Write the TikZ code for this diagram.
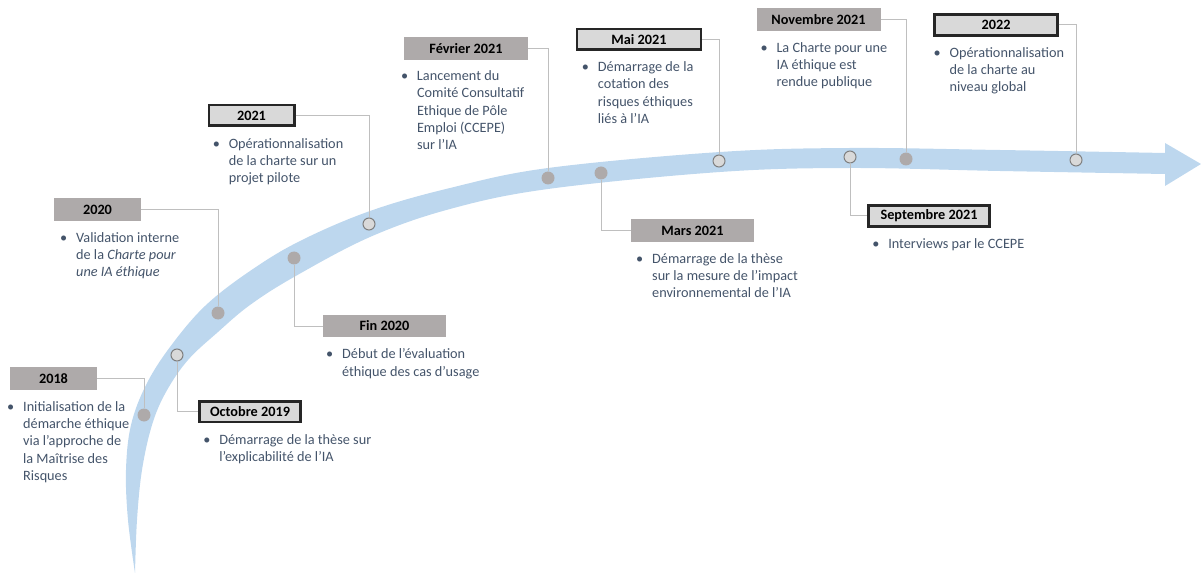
\documentclass[tikz,border=0pt]{standalone}
\usepackage{fontspec}
\setmainfont{Carlito}
\usetikzlibrary{positioning}

\definecolor{bandblue}{HTML}{BDD7EE}
\definecolor{boxdark}{HTML}{AEAAAA}
\definecolor{boxlight}{HTML}{D9D9D9}
\definecolor{boxline}{HTML}{262626}
\definecolor{linkgray}{HTML}{BFBFBF}
\definecolor{dotline}{HTML}{7F7F7F}
\definecolor{textblue}{HTML}{44546A}

\newcommand\puces[1]{\makebox[12pt][l]{\textbullet}\begin{tabular}[t]{@{}l@{}}#1\end{tabular}}

\tikzset{
    every node/.style = {font=\fontsize{10.7pt}{13pt}\selectfont},
    done/.style = {fill=boxdark, inner sep=0pt, minimum height=17pt,
                   font=\fontsize{10.7pt}{13pt}\selectfont\bfseries},
    todo/.style = {draw=boxline, line width=2pt, fill=boxlight, inner sep=0pt,
                   minimum height=15.5pt, font=\fontsize{10.7pt}{13pt}\selectfont\bfseries},
    dotdone/.style = {circle, fill=boxdark, inner sep=0pt, minimum size=9.75pt},
    dottodo/.style = {circle, fill=boxlight, draw=dotline, line width=.75pt,
                      inner sep=0pt, minimum size=9pt},
    link/.style = {draw=linkgray, line width=.75pt},
    puce/.style = {inner sep=0pt, text=textblue, align=left}
}

\begin{document}
\begin{tikzpicture}[x=0.75pt, y=-0.75pt]
    \useasboundingbox (0,0) rectangle (1201,573);

    % the band
    \fill[bandblue]
        plot[smooth, tension=0.6] coordinates {(135,573) (128,520) (126,470) (131,425)
            (146,385) (170,347) (205,306) (250,271) (300,241) (370,211) (450,188)
            (548,168) (720,152) (850,148) (1000,150) (1165,153)}
        -- (1165,143) -- (1201,164) -- (1165,186)
        -- plot[smooth, tension=0.6] coordinates {(1165,174) (1000,171) (850,168)
            (720,172) (548,189) (450,209) (370,237) (294,277) (250,305) (218,332)
            (188,360) (166,392) (152,425) (142,470) (137,520) (135,573)}
        -- cycle;

    % dots on the band
    \foreach \n/\x/\y/\kind in {%
        18/144/415/dotdone,
        19/177/355/dottodo,
        20/218/313/dotdone,
        fin/294/258/dotdone,
        21/369/224/dottodo,
        fev/548/178/dotdone,
        mar/601/173/dotdone,
        mai/719/161/dottodo,
        sep/850/157/dottodo,
        nov/906/159/dotdone,
        22/1076/160/dottodo}
            \node[\kind] (d-\n) at (\x,\y) {};

    % date boxes
    \foreach \n/\x/\y/\w/\kind/\label in {%
        18/53.5/378.5/65pt/done/2018,
        19/250/411.5/76pt/todo/Octobre 2019,
        20/97.5/209.5/65pt/done/2020,
        21/251.5/115.5/64pt/todo/2021,
        fin/384.5/326/92pt/done/Fin 2020,
        fev/466/48.5/93pt/done/Février 2021,
        mai/639/39.5/93pt/todo/Mai 2021,
        mar/692.5/230.5/92pt/done/Mars 2021,
        nov/818.5/19.5/93pt/done/Novembre 2021,
        sep/929/216/91pt/todo/Septembre 2021,
        22/996/25/92pt/todo/2022}
            \node[\kind, minimum width=\w] (b-\n) at (\x,\y) {\label};

    % connectors
    \foreach \n in {18,20,21,fev,mai,nov,22}
        \draw[link] (b-\n.east) -| (d-\n);
    \foreach \n in {19,fin,mar,sep}
        \draw[link] (d-\n) |- (b-\n.west);

    % texts
    \node[puce, below right=6.5pt and -2.25pt of b-18.south west] (t-18)
        {\puces{Initialisation de la\\démarche éthique\\via l’approche de\\la Maîtrise des\\Risques}};
    \node[puce, below right=6.5pt and 3.75pt of b-19.south west] (t-19)
        {\puces{Démarrage de la thèse sur\\l’explicabilité de l’IA}};
    \node[puce, below right=6.5pt and 4.5pt of b-20.south west] (t-20)
        {\puces{Validation interne\\de la \textit{Charte pour}\\\textit{une IA éthique}}};
    \node[puce, below right=6.5pt and 3.75pt of b-21.south west] (t-21)
        {\puces{Opérationnalisation\\de la charte sur un\\projet pilote}};
    \node[puce, below right=6.5pt and 2.25pt of b-fin.south west] (t-fin)
        {\puces{Début de l’évaluation\\éthique des cas d’usage}};
    \node[puce, below right=6pt and -2.25pt of b-fev.south west] (t-fev)
        {\puces{Lancement du\\Comité Consultatif\\Ethique de Pôle\\Emploi (CCEPE)\\sur l’IA}};
    \node[puce, below right=6pt and 4.5pt of b-mai.south west] (t-mai)
        {\puces{Démarrage de la\\cotation des\\risques éthiques\\liés à l’IA}};
    \node[puce, below right=6.5pt and 3.75pt of b-mar.south west] (t-mar)
        {\puces{Démarrage de la thèse\\sur la mesure de l’impact\\environnemental de l’IA}};
    \node[puce, below right=6.5pt and 3pt of b-nov.south west] (t-nov)
        {\puces{La Charte pour une\\IA éthique est\\rendue publique}};
    \node[puce, below right=6.5pt and 3.75pt of b-sep.south west] (t-sep)
        {\puces{Interviews par le CCEPE}};
    \node[puce, below right=6pt and 0pt of b-22.south west] (t-22)
        {\puces{Opérationnalisation\\de la charte au\\niveau global}};
\end{tikzpicture}
\end{document}
